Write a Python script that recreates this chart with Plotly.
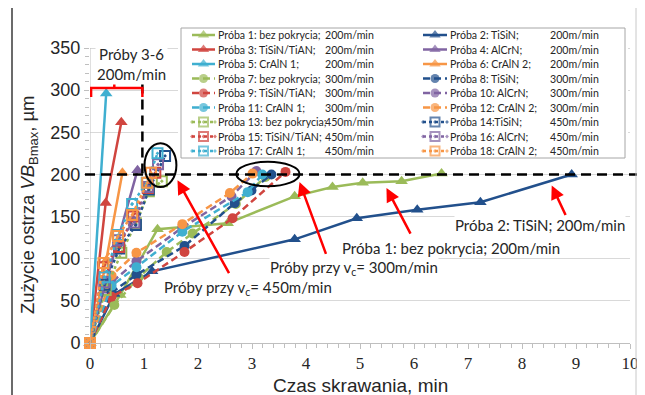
import plotly.graph_objects as go

# ---------------- data ----------------
labels = ["Próba 1: bez pokrycia;", "Próba 2: TiSiN;", "Próba 3: TiSiN/TiAN;", "Próba 4: AlCrN;",
          "Próba 5: CrAlN 1;", "Próba 6: CrAlN 2;", "Próba 7: bez pokrycia;", "Próba 8: TiSiN;",
          "Próba 9: TiSiN/TiAN;", "Próba 10: AlCrN;", "Próba 11: CrAlN 1;", "Próba 12: CrAlN 2;",
          "Próba 13: bez pokrycia;", "Próba 14:TiSiN;", "Próba 15: TiSiN/TiAN;", "Próba 16: AlCrN;",
          "Próba 17: CrAlN 1;", "Próba 18: CrAlN 2;"]
speeds = ["200m/min"] * 6 + ["300m/min"] * 6 + ["450m/min"] * 6

x_p1 = [0, 0.56, 1.25, 2.55, 3.79, 4.49, 5.05, 5.77, 6.51]
y_p1 = [0, 57, 135, 142, 174, 185, 190, 192, 201]
x_p2 = [0, 0.45, 1.15, 3.79, 4.94, 6.06, 7.23, 8.92]
y_p2 = [0, 58, 85, 123, 148, 158, 167, 200]
x_p3 = [0, 0.29, 0.58]
y_p3 = [0, 166, 262]
x_p4 = [0, 0.25, 0.49, 0.88]
y_p4 = [0, 62, 116, 205]
x_p5 = [0, 0.3]
y_p5 = [0, 296]
x_p6 = [0, 0.3, 0.6]
y_p6 = [0, 98, 202]
x_p7 = [0, 0.45, 0.9, 1.42, 1.9, 2.7, 3.25]
y_p7 = [0, 45, 78, 108, 130, 165, 197]
x_p8 = [0, 0.4, 0.86, 1.75, 2.68, 2.99, 3.36]
y_p8 = [0, 60, 81, 115, 166, 181, 200]
x_p9 = [0, 0.4, 0.88, 1.75, 2.64, 3.62]
y_p9 = [0, 55, 71, 108, 148, 203]
x_p10 = [0, 0.4, 0.86, 1.71, 2.62, 3.08]
y_p10 = [0, 72, 97, 137, 174, 204]
x_p11 = [0, 0.4, 0.86, 1.71, 2.92, 3.19]
y_p11 = [0, 68, 90, 132, 179, 200]
x_p12 = [0, 0.4, 0.86, 1.71, 2.59, 3.01]
y_p12 = [0, 80, 107, 141, 178, 201]
x_p13 = [0, 0.29, 0.58, 0.85, 1.09, 1.33]
y_p13 = [0, 63, 107, 142, 180, 192]
x_p14 = [0, 0.27, 0.54, 0.85, 1.09, 1.39]
y_p14 = [0, 69, 112, 140, 182, 222]
x_p15 = [0, 0.24, 0.54, 0.8, 1.07, 1.21]
y_p15 = [0, 90, 114, 150, 184, 202]
x_p16 = [0, 0.27, 0.52, 0.82, 1.07, 1.26]
y_p16 = [0, 72, 122, 143, 185, 212]
x_p17 = [0, 0.27, 0.52, 0.78, 1.05, 1.25]
y_p17 = [0, 78, 128, 165, 190, 225]
x_p18 = [0, 0.25, 0.52, 0.78, 1.06, 1.13]
y_p18 = [0, 95, 127, 152, 190, 202]

xs = [x_p1, x_p2, x_p3, x_p4, x_p5, x_p6, x_p7, x_p8, x_p9, x_p10, x_p11, x_p12,
      x_p13, x_p14, x_p15, x_p16, x_p17, x_p18]
ys = [y_p1, y_p2, y_p3, y_p4, y_p5, y_p6, y_p7, y_p8, y_p9, y_p10, y_p11, y_p12,
      y_p13, y_p14, y_p15, y_p16, y_p17, y_p18]

x_ticks = list(range(0, 11))
y_ticks = list(range(0, 351, 50))

# ---------------- styles ----------------
GREEN, RED, CYAN, NAVY, PURPLE, ORANGE = "#9BBB59", "#D0453F", "#3FAFD0", "#22508C", "#8064A2", "#F79646"
colors = [GREEN, NAVY, RED, PURPLE, CYAN, ORANGE] * 3
symbols = ["triangle-up"] * 6 + ["circle"] * 6 + ["square-open-dot"] * 6
dashes = ["solid"] * 6 + ["7px,4px"] * 6 + ["3px,3px"] * 6
msizes = [11] * 6 + [10] * 6 + [10] * 6

# page body has an 8px margin -> figure pixel = window pixel - OFF
OFF = 8
FIG_W, FIG_H = 637, 387
PX_L, PX_R, PX_T, PX_B = 90, 630, 26, 343  # plot area in window pixels
W, H = PX_R - PX_L, PX_B - PX_T
Y_PER_PX = 350 / (343 - 48)
Y_TOP = 350 + (48 - PX_T) * Y_PER_PX


def px2paper_x(p):
    return (p - PX_L) / W


def px2paper_y(p):
    return (PX_B - p) / H


fig = go.Figure()

for i in range(18):
    fig.add_trace(go.Scatter(
        x=xs[i], y=ys[i], mode="lines+markers", name=labels[i],
        line=dict(color=colors[i], width=2.5, dash=dashes[i]),
        marker=dict(symbol=symbols[i], size=msizes[i], color=colors[i],
                    line=dict(color=colors[i], width=2 if i >= 12 else 0)),
        cliponaxis=False, showlegend=False, hoverinfo="skip"))

# ---------------- custom legend (overlay axes in window-pixel units) ----------------
LB_L, LB_R, LB_T, LB_B = 178, 628, 26, 161
fig.add_trace(go.Scatter(x=[181, 625, 625, 181, 181], y=[28, 28, 158, 158, 28], mode="lines",
                         fill="toself", fillcolor="white", line=dict(color="#a6a6a6", width=1),
                         xaxis="x2", yaxis="y2", showlegend=False, hoverinfo="skip"))

annotations = []
lfont = dict(family="Lato", size=10.6, color="#262626")
for k in range(18):
    col = k % 2
    row = k // 2
    py = 35 + 14.5 * row
    l0, l1, tx, sx = (192, 215, 216, 323) if col == 0 else (423, 447, 448, 548)
    fig.add_trace(go.Scatter(
        x=[l0, (l0 + l1) / 2, l1], y=[py, py, py], mode="lines+markers",
        line=dict(color=colors[k], width=2.5, dash=dashes[k]),
        marker=dict(symbol=symbols[k], size=[0, msizes[k] - 1, 0], color=colors[k],
                    line=dict(color=colors[k], width=2 if k >= 12 else 0)),
        xaxis="x2", yaxis="y2", showlegend=False, hoverinfo="skip", cliponaxis=False))
    annotations.append(dict(x=tx, y=py, xref="x2", yref="y2", text=labels[k], showarrow=False,
                            xanchor="left", yanchor="middle", font=lfont))
    annotations.append(dict(x=sx, y=py, xref="x2", yref="y2", text=speeds[k], showarrow=False,
                            xanchor="left", yanchor="middle", font=lfont))

# ---------------- text labels ----------------
big = dict(family="Lato", size=15, color="#262626")
for (tx, ty, t) in [(8.34, 140, "Próba 2: TiSiN; 200m/min"),
                    (6.69, 113, "Próba 1: bez pokrycia; 200m/min"),
                    (4.88, 89, "Próby przy v<sub>c</sub>= 300m/min"),
                    (2.92, 65, "Próby przy v<sub>c</sub>= 450m/min")]:
    annotations.append(dict(x=tx, y=ty, xref="x", yref="y", text=t, showarrow=False,
                            xanchor="center", yanchor="middle",
                            font=big, bgcolor="white", borderpad=0))
annotations.append(dict(x=0.77, y=331, xref="x", yref="y", text="Próby 3-6<br>200m/min",
                        showarrow=False, xanchor="center", yanchor="middle",
                        font=dict(family="Lato", size=15, color="#262626"),
                        bgcolor="white", borderpad=1))

# red arrows (head, tail)
for (hx, hy, tx_, ty_) in [(1.62, 193, 2.59, 81), (3.88, 191, 4.38, 104),
                            (5.49, 184, 5.95, 128), (8.55, 187, 8.82, 150)]:
    annotations.append(dict(x=hx, y=hy, ax=tx_, ay=ty_, xref="x", yref="y", axref="x", ayref="y",
                            text="", showarrow=True, arrowhead=2, arrowsize=1.1, arrowwidth=2.5,
                            arrowcolor="#FF0000", standoff=0))

# axis titles
annotations.append(dict(x=px2paper_x(360), y=px2paper_y(385), xref="paper", yref="paper",
                        xanchor="center", yanchor="middle",
                        text="Czas skrawania, min", showarrow=False,
                        font=dict(family="Liberation Sans", size=19, color="#262626")))
annotations.append(dict(x=px2paper_x(29), y=px2paper_y(205), xref="paper", yref="paper",
                        xanchor="center", yanchor="middle",
                        text="Zużycie ostrza <i>VB</i><sub>Bmax</sub>, µm", showarrow=False,
                        textangle=-90,
                        font=dict(family="Liberation Sans", size=18.5, color="#262626")))

shapes = []
shapes.append(dict(type="line", xref="x", yref="y", x0=0, x1=0, y0=0, y1=350,
                   line=dict(color="#bfbfbf", width=1)))
shapes.append(dict(type="line", xref="paper", yref="y", x0=px2paper_x(85), x1=px2paper_x(641),
                   y0=200, y1=200, line=dict(color="black", width=2.5, dash="10px,6px")))
shapes.append(dict(type="line", xref="x", yref="y", x0=0.97, x1=0.97, y0=308, y1=200,
                   line=dict(color="black", width=2.5, dash="10px,6px")))
shapes.append(dict(type="path", xref="x", yref="y",
                   path="M 0.02,292 L 0.02,302.5 L 0.97,302.5 L 0.97,292",
                   line=dict(color="#FF0000", width=2.5)))
shapes.append(dict(type="line", xref="x", yref="y", x0=0.45, x1=0.45, y0=302.5, y1=310,
                   line=dict(color="#FF0000", width=2.5)))
shapes.append(dict(type="circle", xref="x", yref="y", x0=1.01, x1=1.6, y0=185, y1=237,
                   line=dict(color="black", width=2)))
shapes.append(dict(type="circle", xref="x", yref="y", x0=2.71, x1=3.88, y0=186, y1=215,
                   line=dict(color="black", width=2)))
shapes.append(dict(type="line", xref="paper", yref="paper", x0=px2paper_x(12), x1=px2paper_x(12),
                   y0=px2paper_y(400), y1=px2paper_y(0), line=dict(color="#3a3a3a", width=1.5)))
shapes.append(dict(type="line", xref="paper", yref="paper", x0=px2paper_x(636), x1=px2paper_x(636),
                   y0=px2paper_y(400), y1=px2paper_y(0), line=dict(color="#c8c8c8", width=1)))

fig.update_layout(
    width=FIG_W, height=FIG_H,
    margin=dict(l=PX_L - OFF, r=FIG_W - (PX_R - OFF), t=PX_T - OFF, b=FIG_H - (PX_B - OFF), pad=0),
    paper_bgcolor="white", plot_bgcolor="white",
    showlegend=False,
    xaxis=dict(range=[0, 10], tickvals=x_ticks, showgrid=False, zeroline=False, automargin=False,
               showline=True, linecolor="#bfbfbf", linewidth=1,
               ticks="outside", ticklen=5, tickcolor="#bfbfbf",
               minor=dict(dtick=0.2, ticks="outside", ticklen=4, tickcolor="#bfbfbf"),
               tickfont=dict(family="Liberation Serif", size=17, color="#262626")),
    yaxis=dict(range=[0, Y_TOP], tickvals=y_ticks, automargin=False,
               showgrid=True, gridcolor="#d9d9d9", zeroline=False, showline=False,
               ticks="outside", ticklen=5, tickcolor="#bfbfbf",
               minor=dict(tickvals=[v for v in range(10, 350, 10) if v % 50], ticks="outside",
                          ticklen=4, tickcolor="#bfbfbf"),
               tickfont=dict(family="Liberation Sans", size=18, color="#262626")),
    xaxis2=dict(domain=[px2paper_x(LB_L), px2paper_x(LB_R)], range=[LB_L, LB_R], visible=False,
                anchor="y2", fixedrange=True),
    yaxis2=dict(domain=[px2paper_y(LB_B), px2paper_y(LB_T)], range=[LB_B, LB_T], visible=False,
                anchor="x2", fixedrange=True),
    annotations=annotations, shapes=shapes,
)

fig.write_html("out.html")
